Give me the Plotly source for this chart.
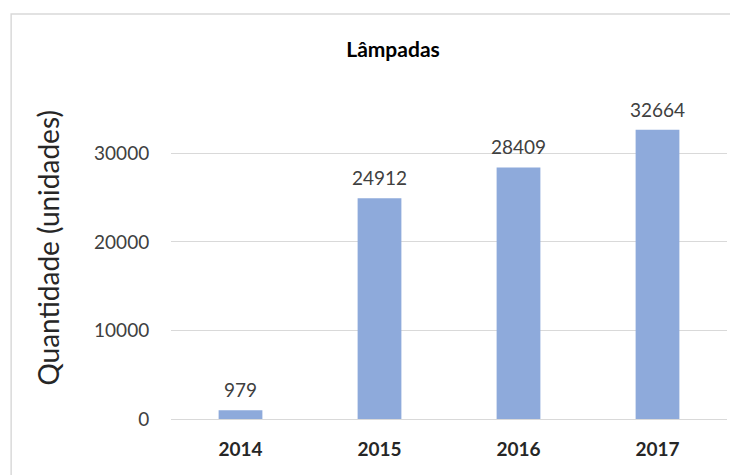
import plotly.graph_objects as go

years = ["2014", "2015", "2016", "2017"]
values = [979, 24912, 28409, 32664]
title_text = "Lâmpadas"
y_title = "Quantidade (unidades)"
y_ticks = [0, 10000, 20000, 30000]

FONT = "Lato, 'Open Sans', sans-serif"

# page has an 8px body margin; layout coords are shifted accordingly
L, T = 163, 101
PW, PH = 556.5, 310

fig = go.Figure(go.Bar(
    x=years, y=values,
    marker=dict(color="#8eaadb", line=dict(width=0)),
))

# value labels above the bars (category index positions on the x axis)
for i, v in enumerate(values):
    fig.add_annotation(x=i, y=v, text=str(v), showarrow=False, yanchor="bottom",
                       yshift=7, font=dict(family=FONT, size=19, color="#404040"))

fig.add_annotation(xref="paper", yref="paper", x=(39 - L) / PW, y=1 - (239.5 - T) / PH,
                   text=y_title, textangle=-90, showarrow=False,
                   xanchor="center", yanchor="middle",
                   font=dict(family=FONT, size=28, color="#262626"))

fig.update_layout(
    width=738, height=475,
    margin=dict(l=L, r=738 - L - PW, t=T, b=475 - T - PH, autoexpand=False),
    paper_bgcolor="white", plot_bgcolor="white",
    bargap=0.685,
    showlegend=False,
    title=dict(text="<b>" + title_text + "</b>", x=385 / 738, xref="container", xanchor="center",
               y=1 - 42 / 475, yref="container", yanchor="middle",
               font=dict(family=FONT, size=21, color="#000000")),
    xaxis=dict(type="category", range=[-0.5, len(years) - 0.5],
               showgrid=False, showline=True, linecolor="#d9d9d9", linewidth=1,
               ticks="outside", ticklen=13, tickcolor="rgba(255,255,255,0)",
               tickvals=years, ticktext=["<b>" + y + "</b>" for y in years],
               tickfont=dict(family=FONT, size=19, color="#262626"), automargin=False),
    yaxis=dict(range=[0, 35000], tickvals=y_ticks, ticktext=[str(t) for t in y_ticks],
               showgrid=True, gridcolor="#d9d9d9",
               zeroline=False, showline=False, ticks="outside", ticklen=17,
               tickcolor="rgba(255,255,255,0)", automargin=False,
               tickfont=dict(family=FONT, size=19, color="#404040")),
    shapes=[dict(type="rect", xref="paper", yref="paper", x0=(3 - L) / PW, x1=(740 - L) / PW,
                 y0=-0.3, y1=1 + (T - 6) / PH,
                 line=dict(color="#d9d9d9", width=1.5), fillcolor="rgba(0,0,0,0)", layer="below")],
)
fig.write_html("out.html")
